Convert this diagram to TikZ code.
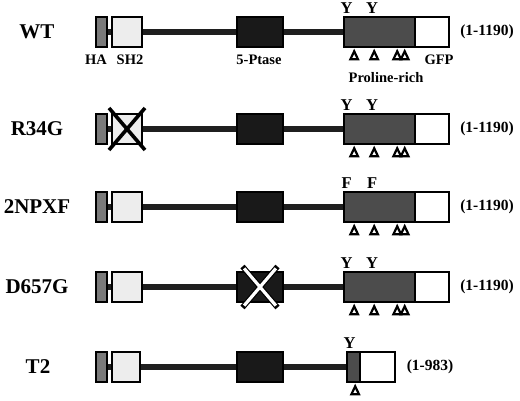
\documentclass[tikz,border=0pt]{standalone}
\usepackage{fontspec}
\setmainfont{Liberation Serif}
\usetikzlibrary{calc,backgrounds}
\begin{document}
\begin{tikzpicture}[x=1pt,y=-1pt,
  dom/.style={draw=black, line width=1.6pt, rectangle, inner sep=0pt, minimum height=30pt},
  hab/.style={dom, fill=black!52, minimum width=11pt},
  shb/.style={dom, fill=black!7, minimum width=30pt},
  ptb/.style={dom, fill=black!90, minimum width=46pt},
  prb/.style={dom, fill=black!70, minimum width=71pt},
  gfpb/.style={dom, fill=white, minimum width=34pt},
  link/.style={line width=6pt, draw=black!88},
  rowlab/.style={font=\fontsize{21}{21}\selectfont\bfseries, inner sep=0pt},
  lab/.style={font=\fontsize{14.5}{14.5}\selectfont\bfseries, inner sep=0pt, anchor=base},
  reslab/.style={font=\fontsize{16.5}{16.5}\selectfont\bfseries, inner sep=0pt, anchor=base},
  numlab/.style={font=\fontsize{15.5}{15.5}\selectfont\bfseries, inner sep=0pt},
  tripic/.pic={\draw[draw=black, fill=white, line width=2.2pt, line join=miter] (0,0.5) -- (-3.8,8.5) -- (3.8,8.5) -- cycle;},
]
\useasboundingbox (0,0) rectangle (520,400);
\foreach \r/\yy/\nm/\ltr in {1/32/WT/Y, 2/129/R34G/Y, 3/207/2NPXF/F, 4/287/D657G/Y}{
  \node[rowlab] (name\r) at (37,\yy) {\nm};
  \node[hab] (ha\r) at (101.5,\yy) {};
  \node[shb] (sh\r) at (127,\yy) {};
  \node[ptb] (pt\r) at (260,\yy) {};
  \node[prb] (pr\r) at (379.5,\yy) {};
  \node[gfpb] (gf\r) at (432,\yy) {};
  \begin{scope}[on background layer]
    \draw[link] (ha\r.center) -- (pr\r.west);
  \end{scope}
  \node[reslab] (ya\r) at ($(pr\r.north west)+(3.5,-2.5)$) {\ltr};
  \node[reslab] (yb\r) at ($(pr\r.north west)+(29,-2.5)$) {\ltr};
  \pic at ($(pr\r.south west)+(11,3)$) {tripic};
  \pic at ($(pr\r.south west)+(31,3)$) {tripic};
  \pic at ($(pr\r.south west)+(54,3)$) {tripic};
  \pic at ($(pr\r.south west)+(61.5,3)$) {tripic};
  \node[numlab] (len\r) at (487,\yy) {(1-1190)};
}
\node[lab] (haL) at (96,64) {HA};
\node[lab] (shL) at (130,64) {SH2};
\node[lab] (ptL) at (259,64) {5-Ptase};
\node[lab] (gfL) at (439,64) {GFP};
\node[lab] (prL) at (386,82) {Proline-rich};
\draw[line width=3.6pt, black] ($(sh2.center)+(-18,-21)$) -- ($(sh2.center)+(18,21)$);
\draw[line width=3.6pt, black] ($(sh2.center)+(18,-21)$) -- ($(sh2.center)+(-18,21)$);
\draw[line width=5.5pt, black] ($(pt4.center)+(-17.5,-20.5)$) -- ($(pt4.center)+(17.5,20.5)$);
\draw[line width=5.5pt, black] ($(pt4.center)+(17.5,-20.5)$) -- ($(pt4.center)+(-17.5,20.5)$);
\draw[line width=3.2pt, white, shorten <=2.5pt, shorten >=2.5pt] ($(pt4.center)+(-17.5,-20.5)$) -- ($(pt4.center)+(17.5,20.5)$);
\draw[line width=3.2pt, white, shorten <=2.5pt, shorten >=2.5pt] ($(pt4.center)+(17.5,-20.5)$) -- ($(pt4.center)+(-17.5,20.5)$);
\node[rowlab] (name5) at (38,367) {T2};
\node[hab] (ha5) at (101.5,367) {};
\node[shb, minimum width=28pt] (sh5) at (126,367) {};
\node[ptb] (pt5) at (260,367) {};
\node[prb, minimum width=13pt] (pr5) at (353.5,367) {};
\node[gfpb, minimum width=35pt] (gf5) at (377.5,367) {};
\begin{scope}[on background layer]
  \draw[link] (ha5.center) -- (pr5.west);
\end{scope}
\node[reslab] (ya5) at ($(pr5.north west)+(3.5,-3)$) {Y};
\pic at ($(pr5.south west)+(9,3)$) {tripic};
\node[numlab] (len5) at (430,367) {(1-983)};
\end{tikzpicture}
\end{document}
